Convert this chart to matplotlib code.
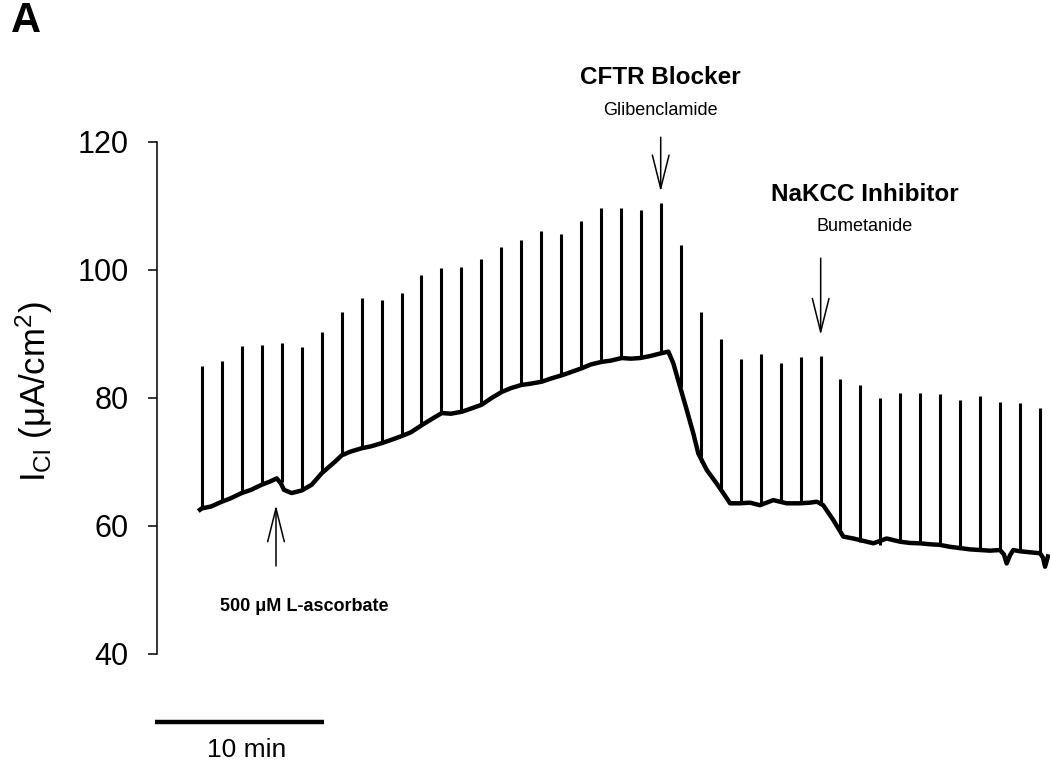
import numpy as np
import matplotlib
matplotlib.use('Agg')
import matplotlib.pyplot as plt

plt.rcParams['font.family'] = ['Liberation Sans', 'DejaVu Sans']
plt.rcParams['mathtext.fontset'] = 'custom'
plt.rcParams['mathtext.rm'] = 'Liberation Sans'
plt.rcParams['mathtext.it'] = 'Liberation Sans:italic'

# baseline current trace (time in min, I_Cl in uA/cm2)
base_t = [0.00, 0.10, 0.65, 1.28, 1.82, 2.45, 3.00, 3.63, 4.12, 4.51, 4.76, 4.94,
          5.39, 5.98, 6.57, 7.16, 7.94, 8.34, 8.88, 9.51, 10.06, 10.69, 11.24,
          11.86, 12.41, 13.04, 13.59, 14.22, 14.76, 15.39, 15.94, 16.57, 17.12,
          17.75, 18.29, 18.92, 19.47, 20.10, 20.65, 21.28, 21.82, 22.45, 23.00,
          23.63, 24.18, 24.80, 25.35, 25.88, 26.47, 27.06, 27.55, 27.84, 28.24,
          28.63, 29.02, 29.31, 29.81, 30.39, 30.78, 31.18, 31.76, 32.35, 32.94,
          33.72, 34.51, 35.29, 35.88, 36.28, 36.66, 37.25, 37.84, 38.43, 39.22,
          39.61, 40.39, 41.18, 41.76, 42.35, 42.94, 43.53, 44.12, 44.71, 45.29,
          45.88, 46.47, 47.06, 47.29, 47.45, 47.65, 47.84, 48.24, 48.63, 49.00,
          49.41, 49.59, 49.71, 49.88]
base_v = [62.5, 62.7, 63.0, 63.75, 64.3, 65.1, 65.6, 66.4, 66.9, 67.4, 66.6, 65.6,
          65.1, 65.5, 66.4, 68.2, 70.0, 71.0, 71.6, 72.1, 72.4, 72.9, 73.4,
          74.0, 74.6, 75.7, 76.6, 77.6, 77.5, 77.8, 78.3, 78.9, 79.9,
          80.9, 81.5, 82.0, 82.2, 82.5, 83.0, 83.5, 84.0, 84.6, 85.2,
          85.6, 85.8, 86.2, 86.1, 86.2, 86.5, 86.9, 87.2, 85.4, 81.7,
          78.1, 74.4, 71.3, 68.7, 66.6, 65.1, 63.5, 63.5, 63.6, 63.2,
          64.0, 63.5, 63.5, 63.6, 63.75, 63.2, 60.9, 58.3, 58.0, 57.5,
          57.25, 58.0, 57.5, 57.3, 57.25, 57.1, 57.0, 56.7, 56.5, 56.3,
          56.2, 56.1, 56.2, 55.5, 54.1, 55.4, 56.2, 56.0, 55.9, 55.8,
          55.7, 55.0, 53.6, 55.2]

# voltage pulse spikes
spike_t = [0.10, 1.28, 2.45, 3.63, 4.81, 5.98, 7.16, 8.34, 9.51, 10.69,
           11.86, 13.02, 14.19, 15.37, 16.55, 17.72, 18.90, 20.08, 21.25, 22.43,
           23.61, 24.78, 25.96, 27.10, 28.29, 29.47, 30.65, 31.82, 33.00, 34.18,
           35.35, 36.51, 37.65, 38.84, 40.02, 41.19, 42.37, 43.55, 44.72, 45.90,
           47.08, 48.25, 49.43]
spike_base = [62.7, 63.75, 65.1, 66.4, 66.8, 65.5, 68.2, 71.0, 72.1, 72.9,
              74.0, 75.7, 77.6, 77.8, 78.9, 80.9, 82.0, 82.5, 83.5, 84.6,
              85.6, 86.2, 86.2, 86.9, 81.7, 70.0, 65.6, 63.5, 63.2, 63.7,
              63.5, 63.3, 58.8, 57.5, 57.0, 57.5, 57.25, 57.0, 56.5, 56.2,
              56.2, 56.0, 55.7]
spike_top = [85.0, 85.8, 88.1, 88.3, 88.5, 87.9, 90.3, 93.4, 95.6, 95.2,
             96.4, 99.2, 100.3, 100.5, 101.7, 103.5, 104.6, 106.0, 105.6, 107.6,
             109.6, 109.6, 109.4, 110.5, 103.9, 93.4, 89.1, 86.1, 86.9, 85.4,
             86.3, 86.5, 83.0, 82.0, 80.0, 80.7, 80.7, 80.6, 79.6, 80.3,
             79.4, 79.2, 78.4]

fig = plt.figure(figsize=(10.5, 7.64), dpi=100)
ax = fig.add_axes([0, 0, 1, 1])
ax.set_xlim(-200 / 17, 850 / 17)
ax.set_ylim(120 - 622.3 / 6.4, 120 + 141.7 / 6.4)

ax.plot(base_t, base_v, color='black', lw=3.2, solid_joinstyle='round')
ax.vlines(spike_t, spike_base, spike_top, color='black', lw=2.2)

# y axis
for s in ['top', 'right', 'bottom']:
    ax.spines[s].set_visible(False)
ax.spines['left'].set_position(('data', -43 / 17))
ax.spines['left'].set_bounds(40, 120)
ax.spines['left'].set_linewidth(1.1)
ax.set_yticks([40, 60, 80, 100, 120])
ax.set_xticks([])
ax.tick_params(axis='y', length=6.5, width=1.1, pad=14, labelsize=22)

fig.text(0.033, 0.487, r'I$_{\mathrm{Cl}}$ (μA/cm$^{\mathrm{2}}$)', rotation=90,
         fontsize=25, ha='center', va='center')
fig.text(0.010, 0.972, 'A', fontsize=30, fontweight='bold', ha='left', va='center')

# scale bar
ax.plot([-2.65, 7.31], [29.3, 29.3], color='black', lw=3.2,
        solid_capstyle='butt', clip_on=False)
ax.text(2.76, 25.0, '10 min', fontsize=19, ha='center', va='center')

# annotations
arrow = dict(arrowstyle='->,head_length=1.2,head_width=0.3', color='black',
             lw=1.1, shrinkA=0, shrinkB=0, mutation_scale=20)
ax.annotate('', xy=(27.10, 112.2), xytext=(27.10, 120.7), arrowprops=arrow)
ax.text(27.06, 130.1, 'CFTR Blocker', fontsize=17.5, fontweight='bold', ha='center', va='center')
ax.text(27.06, 124.9, 'Glibenclamide', fontsize=13, ha='center', va='center')

ax.annotate('', xy=(36.51, 89.8), xytext=(36.51, 101.8), arrowprops=arrow)
ax.text(39.1, 111.7, 'NaKCC Inhibitor', fontsize=17.5, fontweight='bold', ha='center', va='center')
ax.text(39.1, 106.8, 'Bumetanide', fontsize=13, ha='center', va='center')

ax.annotate('', xy=(4.47, 63.2), xytext=(4.47, 53.7), arrowprops=arrow)
ax.text(6.12, 47.4, '500 μM L-ascorbate', fontsize=13, fontweight='bold', ha='center', va='center')

plt.savefig('out.png', dpi=100)
